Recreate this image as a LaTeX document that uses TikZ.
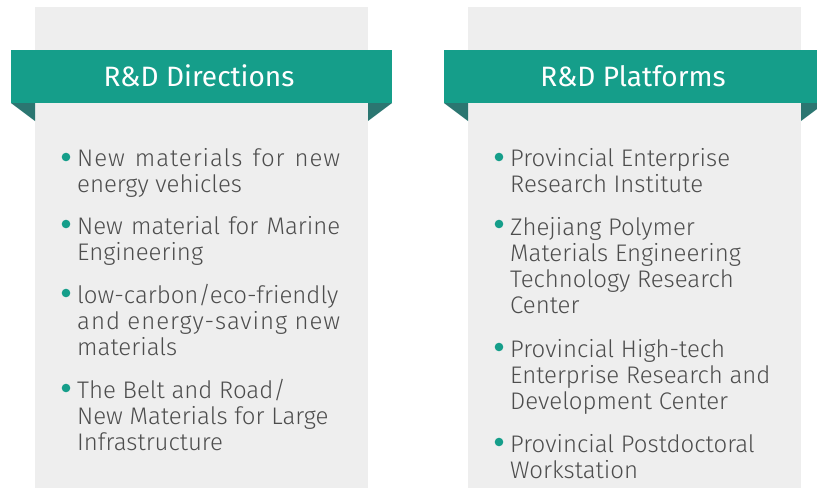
\documentclass[tikz,border=0pt]{standalone}
\usepackage{fontspec}
\setmainfont{Fira Sans}
\newfontfamily\bodyfont{Fira Sans Light}
\newfontfamily\bodyfontsp{Fira Sans Light}[LetterSpace=4]
\definecolor{teal1}{HTML}{159E8A}
\definecolor{teal2}{HTML}{2B7671}
\definecolor{panel}{HTML}{EEEEEE}
\definecolor{txt}{HTML}{4D4D4D}
\newcommand{\jline}[1]{\makebox[263pt][s]{#1}}
\newcommand{\jsline}[1]{\makebox[263pt][s]{\bodyfontsp #1}}
\tikzset{
  panelbox/.style={fill=panel, draw=none},
  ribbon/.style={fill=teal1, draw=none},
  fold/.style={fill=teal2, draw=none},
  headtext/.style={text=white, font=\fontsize{28}{30}\selectfont, inner sep=0pt, anchor=base},
  itemtext/.style={text=txt, font=\bodyfont\fontsize{24}{26}\selectfont, inner sep=0pt, anchor=base west, align=left},
  dot/.style={circle, fill=teal1, inner sep=0pt, minimum size=8.6pt}
}
\begin{document}
\begin{tikzpicture}[x=1pt,y=-1pt]
\useasboundingbox (0,0) rectangle (817,488);
\begin{scope}
\clip (0,0) rectangle (817,488);
% left panel
\fill[panelbox] (35,7) rectangle (368,488);
\fill[fold] (11,103) -- (35,103) -- (35,121) -- cycle;
\fill[fold] (368,103) -- (392,103) -- (368,121) -- cycle;
\fill[ribbon] (11,50) rectangle (392,103);
% right panel
\fill[panelbox] (468,7) rectangle (801,488);
\fill[fold] (444,103) -- (468,103) -- (468,121) -- cycle;
\fill[fold] (801,103) -- (825,103) -- (801,121) -- cycle;
\fill[ribbon] (444,50) rectangle (825,103);
\end{scope}
\node[headtext] (dirhead) at (199,86) {R\&D Directions};
\node[headtext] (plathead) at (633,86) {R\&D Platforms};
% left items (anchor = baseline of last line)
\node[dot] (db1) at (66,157) {};
\node[itemtext] (d1) at (77,192) {\jsline{New materials for new}\\energy vehicles};
\node[dot] (db2) at (66,224) {};
\node[itemtext] (d2) at (77,260) {\jline{New material for Marine}\\Engineering};
\node[dot] (db3) at (66,293) {};
\node[itemtext] (d3) at (77,355) {\jline{low-carbon/eco-friendly}\\\jsline{and energy-saving new}\\materials};
\node[dot] (db4) at (66,388) {};
\node[itemtext] (d4) at (77,450) {The Belt and Road/\\New Materials for Large\\Infrastructure};
% right items
\node[dot] (pb1) at (499,157) {};
\node[itemtext] (p1) at (510,192) {Provincial Enterprise\\Research Institute};
\node[dot] (pb2) at (499,224) {};
\node[itemtext] (p2) at (510,313) {Zhejiang Polymer\\Materials Engineering\\Technology Research\\Center};
\node[dot] (pb3) at (499,347) {};
\node[itemtext] (p3) at (510,409) {Provincial High-tech\\Enterprise Research and\\Development Center};
\node[dot] (pb4) at (499,442) {};
\node[itemtext] (p4) at (510,478) {Provincial Postdoctoral\\Workstation};
\end{tikzpicture}
\end{document}
